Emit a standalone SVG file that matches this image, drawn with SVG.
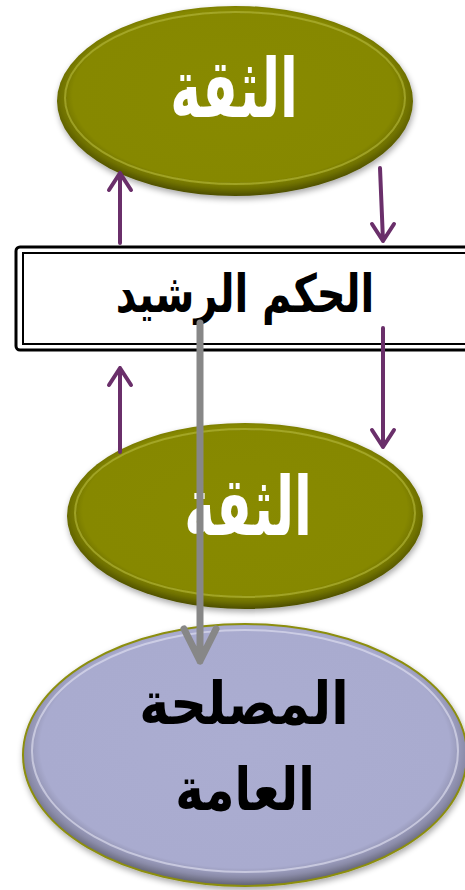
<svg xmlns="http://www.w3.org/2000/svg" width="465" height="890" viewBox="0 0 465 890">
<style>
.t{font-family:"DejaVu Sans","Liberation Sans",sans-serif;font-weight:bold;text-anchor:middle}
.w{fill:#ffffff}
.k{fill:#000000}
.p{stroke:#6a2f6a;stroke-width:4;fill:none;stroke-linecap:round;stroke-linejoin:round}
.g{stroke:#878787;stroke-width:7;fill:none;stroke-linecap:round;stroke-linejoin:round}
</style>
<defs>
<radialGradient id="olive" cx="50%" cy="47%" r="53%">
<stop offset="0" stop-color="#888a05"/>
<stop offset="0.86" stop-color="#868805"/>
<stop offset="0.93" stop-color="#6e7004"/>
<stop offset="1" stop-color="#4c4d02"/>
</radialGradient>
<radialGradient id="lav" cx="50%" cy="47%" r="53%">
<stop offset="0" stop-color="#abadd1"/>
<stop offset="0.87" stop-color="#a9abcf"/>
<stop offset="0.94" stop-color="#8a8ba8"/>
<stop offset="1" stop-color="#5f6070"/>
</radialGradient>
<filter id="sh" x="-10%" y="-10%" width="120%" height="130%">
<feGaussianBlur in="SourceAlpha" stdDeviation="3"/>
<feOffset dx="1" dy="3"/>
<feComponentTransfer><feFuncA type="linear" slope="0.35"/></feComponentTransfer>
<feMerge><feMergeNode/><feMergeNode in="SourceGraphic"/></feMerge>
</filter>
</defs>

<g id="node-trust-top" filter="url(#sh)">
<ellipse cx="235" cy="101" rx="178" ry="95" fill="url(#olive)"/>
<ellipse cx="235" cy="98" rx="170" ry="86" fill="none" stroke="#b8bb3a" stroke-width="2" stroke-opacity="0.6"/>
<text class="t w" font-size="62" transform="translate(234,117) scale(0.84,1.32)">الثقة</text>
</g>

<g id="node-trust-mid" filter="url(#sh)">
<ellipse cx="245" cy="516" rx="178" ry="93" fill="url(#olive)"/>
<ellipse cx="245" cy="513" rx="170" ry="84" fill="none" stroke="#b8bb3a" stroke-width="2" stroke-opacity="0.6"/>
<text class="t w" font-size="62" transform="translate(248,535) scale(0.84,1.32)">الثقة</text>
</g>

<g id="node-public-interest" filter="url(#sh)">
<ellipse cx="245" cy="755" rx="222" ry="131" fill="url(#lav)" stroke="#8c8e10" stroke-width="2"/>
<ellipse cx="245" cy="751" rx="213" ry="121" fill="none" stroke="#e4e5f4" stroke-width="2" stroke-opacity="0.6"/>
<text class="t k" font-size="52" transform="translate(244,724) scale(0.98,1.15)">المصلحة</text>
<text class="t k" font-size="52" transform="translate(245,810) scale(0.93,1.15)">العامة</text>
</g>

<g id="node-good-governance">
<rect x="16" y="247" width="470" height="103" rx="4" fill="#ffffff" stroke="#000" stroke-width="3"/>
<rect x="23" y="253" width="460" height="91" fill="none" stroke="#000" stroke-width="2"/>
<text class="t k" font-size="44" transform="translate(245,312) scale(0.91,1.2)">الحكم الرشيد</text>
</g>

<g id="connectors">
<path class="p" d="M120 243 V173 M109 190 L120 173 L131 190"/>
<path class="p" d="M380 168 L383 241 M372 224 L383 241 L394 224"/>
<path class="p" d="M120 452 V368 M109 385 L120 368 L131 385"/>
<path class="p" d="M383 328 V447 M372 430 L383 447 L394 430"/>
<path class="g" d="M200 323 V661 M184 629 L200 661 L216 629"/>
</g>
</svg>
